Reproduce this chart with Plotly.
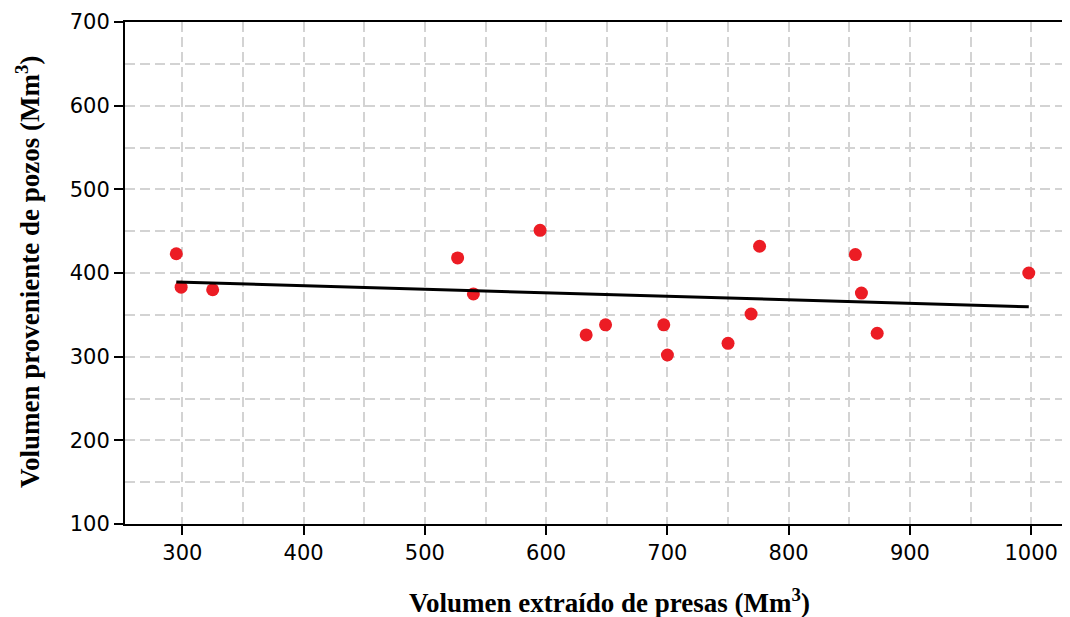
import numpy as np
import plotly.graph_objects as go

# Data
presas = [295, 299, 325, 527, 540, 595, 633, 649, 697, 700, 750, 769, 776, 855, 860, 873, 998]
pozos = [423, 383, 380, 418, 375, 451, 326, 338, 338, 302, 316, 351, 432, 422, 376, 328, 400]

x_tick_vals = [300, 400, 500, 600, 700, 800, 900, 1000]
x_tick_text = ["300", "400", "500", "600", "700", "800", "900", "1000"]
y_tick_vals = [100, 200, 300, 400, 500, 600, 700]
y_tick_text = ["100", "200", "300", "400", "500", "600", "700"]

x_title = "Volumen extraído de presas (Mm<sup>3</sup>)"
y_title = "Volumen proveniente de pozos (Mm<sup>3</sup>)"

# Linear trend line (least squares fit of the data)
slope, intercept = np.polyfit(presas, pozos, 1)
trend_x = [min(presas), max(presas)]
trend_y = [slope * v + intercept for v in trend_x]

grid_color = "#d3d3d3"
grid_dash = "10px,5px"

fig = go.Figure()
fig.add_trace(go.Scatter(
    x=presas, y=pozos, mode="markers",
    marker=dict(color="#ec1c24", size=13, line=dict(width=0)),
    showlegend=False, hoverinfo="x+y",
))
fig.add_trace(go.Scatter(
    x=trend_x, y=trend_y, mode="lines",
    line=dict(color="black", width=3),
    showlegend=False, hoverinfo="skip",
))

axis_common = dict(
    showline=True, linecolor="black", linewidth=2,
    ticks="outside", ticklen=9, tickwidth=2, tickcolor="black",
    showgrid=True, gridcolor=grid_color, gridwidth=2, griddash=grid_dash,
    zeroline=False,
    tickfont=dict(family="DejaVu Sans", size=21, color="black"),
)

fig.update_layout(
    width=1062, height=609, autosize=False,
    margin=dict(l=117, r=0, t=14, b=93),
    paper_bgcolor="white", plot_bgcolor="white",
    xaxis=dict(
        range=[252.7, 1032], tickmode="array", tickvals=x_tick_vals, ticktext=x_tick_text,
        mirror=True,
        minor=dict(dtick=50, tick0=0, showgrid=True, gridcolor=grid_color,
                   gridwidth=2, griddash=grid_dash, ticklen=0),
        **axis_common,
    ),
    yaxis=dict(
        range=[100, 700], tickmode="array", tickvals=y_tick_vals, ticktext=y_tick_text,
        minor=dict(dtick=50, tick0=0, showgrid=True, gridcolor=grid_color,
                   gridwidth=2, griddash=grid_dash, ticklen=0),
        **axis_common,
    ),
    annotations=[
        dict(text=x_title, xref="paper", yref="paper", x=0.5132, y=-0.153,
             xanchor="center", yanchor="middle", showarrow=False,
             font=dict(family="Liberation Serif", size=27, color="black", weight="bold")),
        dict(text=y_title, xref="paper", yref="paper", x=-0.1026, y=0.502,
             xanchor="center", yanchor="middle", showarrow=False, textangle=-90,
             font=dict(family="Liberation Serif", size=27, color="black", weight="bold")),
    ],
)

fig.write_html("out.html")
